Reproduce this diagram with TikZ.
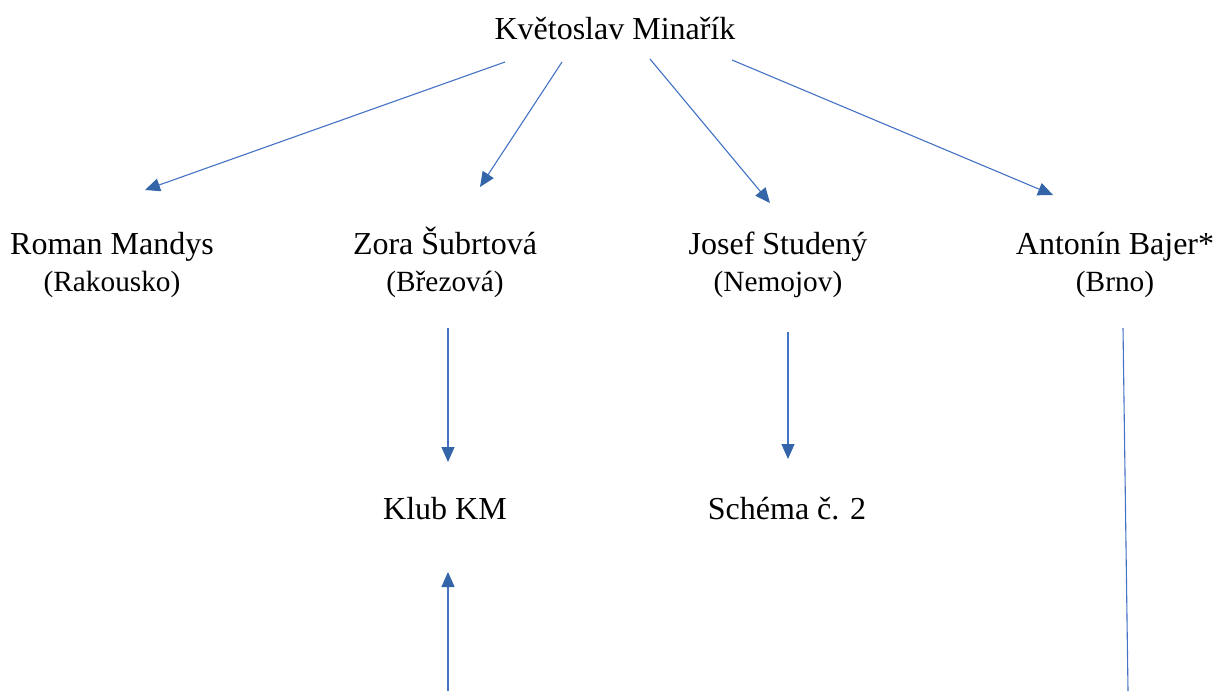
\documentclass[tikz,border=0pt]{standalone}
\usepackage{fontspec}
\setmainfont{Liberation Serif}
\usetikzlibrary{arrows.meta}
\definecolor{ln}{RGB}{68,114,196}
\definecolor{ah}{RGB}{52,101,168}
\tikzset{
  big/.style={inner sep=0pt, anchor=base, align=center, font=\rmfamily\fontsize{32}{37}\selectfont},
  conn/.style={draw=ln, line width=1.1pt, -{Triangle[length=15pt,width=13pt,fill=ah,color=ah]}},
  plain/.style={draw=ln, line width=1.1pt}
}
\newcommand{\subline}[1]{{\rmfamily\fontsize{29.3}{37}\selectfont #1}}
\begin{document}
\begin{tikzpicture}[x=1pt,y=-1pt]
\useasboundingbox (0,0) rectangle (1218,691);
\node[big] (km) at (615,39) {Květoslav Minařík};
\node[big] (rm) at (112,291) {Roman Mandys\\\subline{(Rakousko)}};
\node[big] (zs) at (445,291) {Zora Šubrtová\\\subline{(Březová)}};
\node[big] (js) at (778,291) {Josef Studený\\\subline{(Nemojov)}};
\node[big] (ab) at (1115,291) {Antonín Bajer*\\\subline{(Brno)}};
\node[big] (klub) at (445,519) {Klub KM};
\node[big] (sch) at (787,519) {Schéma č. 2};
% connector end points
\coordinate (a1s) at (505,62);  \coordinate (a1e) at (145,190);
\coordinate (a2s) at (562,62);  \coordinate (a2e) at (480,187);
\coordinate (a3s) at (650,59);  \coordinate (a3e) at (770,203);
\coordinate (a4s) at (732,60);  \coordinate (a4e) at (1053,195);
\coordinate (a5s) at (448,328); \coordinate (a5e) at (448,462);
\coordinate (a6s) at (788,332); \coordinate (a6e) at (788,459);
\coordinate (a7s) at (448,691); \coordinate (a7e) at (448,572);
\coordinate (a8s) at (1123,328); \coordinate (a8e) at (1128,691);
\draw[conn] (a1s) -- (a1e);
\draw[conn] (a2s) -- (a2e);
\draw[conn] (a3s) -- (a3e);
\draw[conn] (a4s) -- (a4e);
\draw[conn] (a5s) -- (a5e);
\draw[conn] (a6s) -- (a6e);
\draw[conn] (a7s) -- (a7e);
\draw[plain] (a8s) -- (a8e);
\end{tikzpicture}
\end{document}
